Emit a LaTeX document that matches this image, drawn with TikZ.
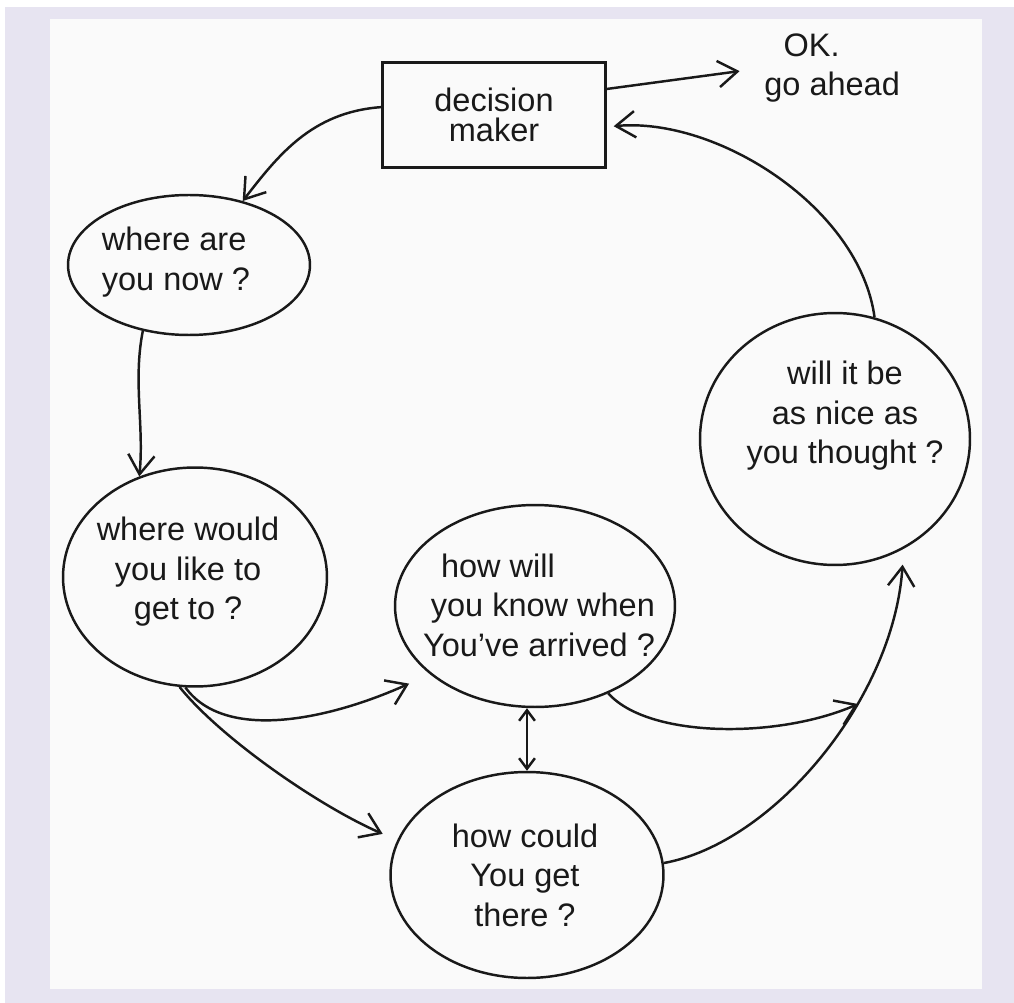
\documentclass[tikz,border=0pt]{standalone}
\usepackage{fontspec}
\setmainfont{Liberation Sans}
\usetikzlibrary{arrows.meta,shapes.geometric}
\definecolor{framebg}{RGB}{231,228,241}
\definecolor{paper}{RGB}{250,250,250}
\definecolor{ink}{RGB}{25,25,25}
\begin{document}
\begin{tikzpicture}[x=0.02cm, y=-0.02cm,
  pen/.style={draw=ink, line width=1.4pt},
  bubble/.style={ellipse, pen, inner sep=0pt},
  txt/.style={inner sep=0pt, text=ink, font=\fontsize{18.5}{22.5}\selectfont},
  flow/.style={pen, -{Straight Barb[length=11pt,width=15pt]}},
  twoway/.style={pen, {Straight Barb[length=6pt,width=9pt]}-{Straight Barb[length=6pt,width=9pt]}}
]
% frame and paper
\path[use as bounding box] (0,0) rectangle (1014,1003);
\fill[white] (0,0) rectangle (1014,1003);
\fill[framebg] (5,7) rectangle (1014,1003);
\fill[paper] (50,19) rectangle (982,989);

% decision maker and the verdict
\node[pen, rectangle, minimum width=4.46cm, minimum height=2.1cm, align=center,
      txt, font=\fontsize{18.5}{17}\selectfont] (dm) at (494,115) {decision\\maker};
\node[txt, anchor=north west, align=left] (ok) at (764,33) {\hspace{11pt}OK.\\go ahead};

% the question bubbles
\node[bubble, minimum width=4.84cm, minimum height=2.8cm] (now) at (189,265) {};
\node[txt, align=left] (nowtxt) at (176,262) {where are\\you now ?};

\node[bubble, minimum width=5.28cm, minimum height=4.38cm] (goal) at (195,577) {};
\node[txt, align=center] (goaltxt) at (188,572) {where would\\you like to\\get to ?};

\node[bubble, minimum width=5.6cm, minimum height=4.04cm] (know) at (535,606) {};
\node[txt, align=right] (knowtxt) at (539,605) {how will\hspace{57pt}\mbox{}\\you know when\\You've arrived ?};

\node[bubble, minimum width=5.46cm, minimum height=4.12cm] (route) at (527,875) {};
\node[txt, align=center] (routetxt) at (525,875) {how could\\You get\\there ?};

\node[bubble, minimum width=5.4cm, minimum height=5.04cm] (nice) at (835,439) {};
\node[txt, align=center] (nicetxt) at (845,416) {will it be\\as nice as\\you thought ?};

% the cycle
\draw[flow] (dm.176) .. controls +(-70,5) and +(35,-45) .. (now.50);
\draw[flow] (now.235) .. controls +(-10,50) and +(5,-50) .. (goal.119);
\draw[flow, shorten >=13pt] (goal.265) .. controls +(40,55) and +(-100,45) .. (know.213);
\draw[flow, shorten >=9pt] (goal.262) .. controls +(40,50) and +(-80,-35) .. (route.165);
\draw[twoway] (route.north |- know.south) -- (route.north);
\coordinate (meet) at (858,704);
\draw[flow] (know.310) .. controls +(40,45) and +(-80,35) .. (meet);
\draw[flow, shorten >=9pt] (route.5) .. controls +(110,-20) and +(-10,150) .. (nice.302);
\draw[flow, shorten >=4pt] (nice.72) .. controls +(-15,-110) and +(110,-10) .. (dm.354);
\draw[flow, shorten >=14pt] (dm.13) -- (ok.west);
\end{tikzpicture}
\end{document}
